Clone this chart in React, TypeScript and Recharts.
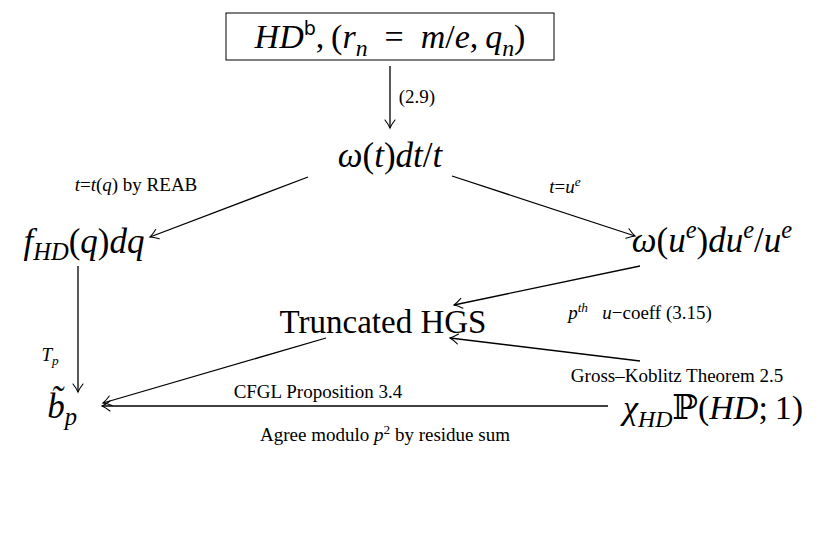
import React from 'react';
import { ScatterChart, Scatter, XAxis, YAxis, ReferenceLine } from 'recharts';

type Seg = { t: string; i?: boolean; v?: 'sub' | 'sup'; f?: string; k?: number };

// Diagram nodes (positions in diagram units)
const nodes = [
  { id: 'hd', x: 390, y: 37 },
  { id: 'omega', x: 390, y: 155 },
  { id: 'f', x: 84, y: 241 },
  { id: 'omegaU', x: 712, y: 240 },
  { id: 'hgs', x: 383, y: 322 },
  { id: 'b', x: 62, y: 406 },
  { id: 'chi', x: 713, y: 408 },
];

// Edge labels
const edgeLabels = [
  { id: 'e29', x: 417, y: 97 },
  { id: 'reab', x: 136, y: 185 },
  { id: 'tue', x: 565, y: 187 },
  { id: 'tp', x: 50, y: 355 },
  { id: 'pth', x: 640, y: 313 },
  { id: 'gk', x: 677, y: 376 },
  { id: 'cfgl', x: 318, y: 392 },
  { id: 'agree', x: 385, y: 435 },
];

// Arrows: from -> to
const arrows = [
  { from: { x: 390, y: 66 }, to: { x: 390, y: 128 } },
  { from: { x: 308, y: 177 }, to: { x: 150, y: 237 } },
  { from: { x: 452, y: 176 }, to: { x: 635, y: 236 } },
  { from: { x: 78, y: 266 }, to: { x: 78, y: 392 } },
  { from: { x: 640, y: 266 }, to: { x: 454, y: 305 } },
  { from: { x: 640, y: 361 }, to: { x: 450, y: 338 } },
  { from: { x: 326, y: 338 }, to: { x: 103, y: 403 } },
  { from: { x: 608, y: 406 }, to: { x: 102, y: 406 } },
];

const SANS = '"DejaVu Sans", sans-serif';

const texts: Record<string, Seg[]> = {
  hd: [
    { t: 'HD', i: true }, { t: 'b', v: 'sup', f: SANS, k: 0.8 }, { t: ',\u2009(' }, { t: 'r', i: true }, { t: 'n', i: true, v: 'sub' },
    { t: '\u2002=\u2002' }, { t: 'm', i: true }, { t: '/' }, { t: 'e', i: true }, { t: ',\u2009' }, { t: 'q', i: true },
    { t: 'n', i: true, v: 'sub' }, { t: ')' },
  ],
  omega: [{ t: 'ω', i: true }, { t: '(' }, { t: 't', i: true }, { t: ')' }, { t: 'dt', i: true }, { t: '/' }, { t: 't', i: true }],
  f: [{ t: 'f', i: true }, { t: 'HD', i: true, v: 'sub' }, { t: '(' }, { t: 'q', i: true }, { t: ')' }, { t: 'dq', i: true }],
  omegaU: [
    { t: 'ω', i: true }, { t: '(' }, { t: 'u', i: true }, { t: 'e', i: true, v: 'sup' }, { t: ')' }, { t: 'du', i: true },
    { t: 'e', i: true, v: 'sup' }, { t: '/' }, { t: 'u', i: true }, { t: 'e', i: true, v: 'sup' },
  ],
  hgs: [{ t: 'Truncated HGS' }],
  b: [{ t: 'b\u0303', i: true }, { t: 'p', i: true, v: 'sub' }],
  chi: [
    { t: 'χ', i: true }, { t: 'HD', i: true, v: 'sub' }, { t: 'ℙ', f: '"DejaVu Serif", serif' }, { t: '(' }, { t: 'HD', i: true }, { t: ';\u2009' }, { t: '1)' },
  ],
  e29: [{ t: '(2.9)' }],
  reab: [{ t: 't', i: true }, { t: '=' }, { t: 't', i: true }, { t: '(' }, { t: 'q', i: true }, { t: ') by REAB' }],
  tue: [{ t: 't', i: true }, { t: '=' }, { t: 'u', i: true }, { t: 'e', i: true, v: 'sup' }],
  tp: [{ t: 'T', i: true }, { t: 'p', i: true, v: 'sub' }],
  pth: [{ t: 'p', i: true }, { t: 'th', i: true, v: 'sup' }, { t: '   ' }, { t: 'u', i: true }, { t: '−coeff (3.15)' }],
  gk: [{ t: 'Gross–Koblitz Theorem 2.5' }],
  cfgl: [{ t: 'CFGL Proposition 3.4' }],
  agree: [{ t: 'Agree modulo ' }, { t: 'p', i: true }, { t: '2', v: 'sup' }, { t: ' by residue sum' }],
};

const nodeSize: Record<string, number> = { hd: 34, omega: 35, f: 35, omegaU: 35, hgs: 33, b: 35, chi: 34 };

const FONT = '"Liberation Serif", "DejaVu Serif", serif';

function MathText({ x, y, segs, size }: { x: number; y: number; segs: Seg[]; size: number }) {
  let cur = 0;
  return (
    <text x={x} y={y + size * 0.33} textAnchor="middle" fontFamily={FONT} fill="#000" style={{ whiteSpace: 'pre' }}>
      {segs.map((s, k) => {
        const target = s.v === 'sub' ? size * 0.22 : s.v === 'sup' ? -size * 0.38 : 0;
        const dy = target - cur;
        cur = target;
        const fs = (s.v ? size * 0.7 : size) * (s.k ?? 1);
        return (
          <tspan key={k} dy={dy} fontSize={fs} fontStyle={s.i ? 'italic' : 'normal'} fontFamily={s.f}>
            {s.t}
          </tspan>
        );
      })}
    </text>
  );
}

const NodeShape = (props: any) => {
  const { cx, cy, payload } = props;
  const segs = texts[payload.id];
  return (
    <g>
      {payload.id === 'hd' && (
        <rect x={cx - 164} y={cy - 24} width={328} height={47} fill="none" stroke="#000" strokeWidth={1} />
      )}
      <MathText x={cx} y={cy} segs={segs} size={nodeSize[payload.id]} />
    </g>
  );
};

const LabelShape = (props: any) => {
  const { cx, cy, payload } = props;
  return <MathText x={cx} y={cy} segs={texts[payload.id]} size={19} />;
};

const ArrowShape = (props: any) => {
  const { x1, y1, x2, y2 } = props;
  const len = Math.hypot(x2 - x1, y2 - y1) || 1;
  const dx = (x2 - x1) / len;
  const dy = (y2 - y1) / len;
  const nx = -dy;
  const ny = dx;
  const b1x = x2 - 8 * dx + 5 * nx, b1y = y2 - 8 * dy + 5 * ny;
  const b2x = x2 - 8 * dx - 5 * nx, b2y = y2 - 8 * dy - 5 * ny;
  const c1x = x2 - 3 * dx + 1.2 * nx, c1y = y2 - 3 * dy + 1.2 * ny;
  const c2x = x2 - 3 * dx - 1.2 * nx, c2y = y2 - 3 * dy - 1.2 * ny;
  return (
    <g>
      <line x1={x1} y1={y1} x2={x2} y2={y2} stroke="#000" strokeWidth={1.3} />
      <path
        d={`M${b1x},${b1y} Q${c1x},${c1y} ${x2},${y2} Q${c2x},${c2y} ${b2x},${b2y}`}
        fill="none"
        stroke="#000"
        strokeWidth={1.1}
        strokeLinecap="round"
      />
    </g>
  );
};

export default function App() {
  return (
    <div style={{ position: 'absolute', left: 0, top: 0, width: 819, height: 534, background: '#fff' }}>
      <ScatterChart width={819} height={534} margin={{ top: 0, right: 0, bottom: 0, left: 0 }}>
        <XAxis type="number" dataKey="x" domain={[0, 819]} hide allowDataOverflow />
        <YAxis type="number" dataKey="y" domain={[0, 534]} reversed hide allowDataOverflow />
        {arrows.map((a, k) => (
          <ReferenceLine key={k} segment={[a.from, a.to]} shape={ArrowShape} ifOverflow="visible" />
        ))}
        <Scatter data={nodes} shape={NodeShape} isAnimationActive={false} />
        <Scatter data={edgeLabels} shape={LabelShape} isAnimationActive={false} />
      </ScatterChart>
    </div>
  );
}
